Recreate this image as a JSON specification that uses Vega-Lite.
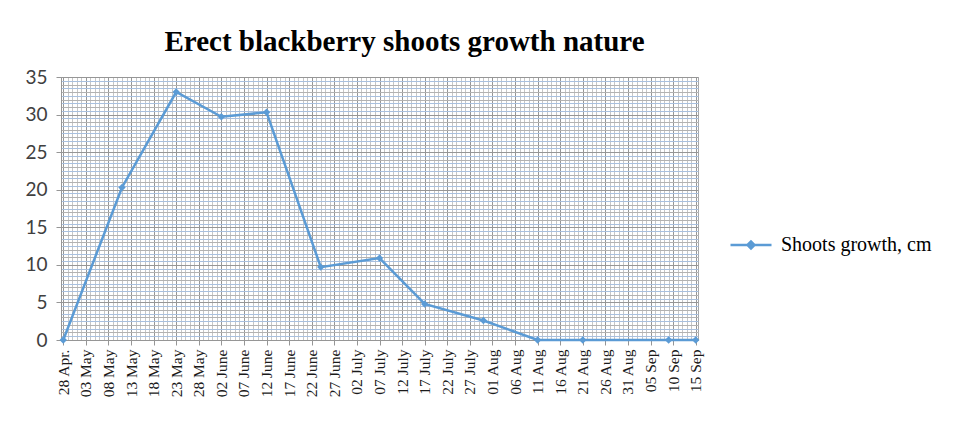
{
  "$schema": "https://vega.github.io/schema/vega-lite/v6.json",
  "width": 637,
  "height": 263,
  "autosize": "none",
  "padding": {"left": 61, "top": 77, "right": 272, "bottom": 85},
  "background": "white",
  "config": {"view": {"stroke": "#a6a6a6", "strokeWidth": 1}},
  "title": {
    "text": "Erect blackberry shoots growth nature",
    "font": "Liberation Serif",
    "fontSize": 29,
    "fontWeight": "bold",
    "color": "#000000",
    "anchor": "middle",
    "frame": "group",
    "offset": 24,
    "baseline": "alphabetic",
    "dx": 25,
    "dy": 36
  },
  "data": {
    "values": [
      {"date": "2014-04-28", "growth": 0, "series": "Shoots growth, cm"},
      {"date": "2014-05-11", "growth": 20.3, "series": "Shoots growth, cm"},
      {"date": "2014-05-23", "growth": 33.0, "series": "Shoots growth, cm"},
      {"date": "2014-06-02", "growth": 29.7, "series": "Shoots growth, cm"},
      {"date": "2014-06-12", "growth": 30.3, "series": "Shoots growth, cm"},
      {"date": "2014-06-24", "growth": 9.7, "series": "Shoots growth, cm"},
      {"date": "2014-07-07", "growth": 10.9, "series": "Shoots growth, cm"},
      {"date": "2014-07-17", "growth": 4.8, "series": "Shoots growth, cm"},
      {"date": "2014-07-30", "growth": 2.6, "series": "Shoots growth, cm"},
      {"date": "2014-08-11", "growth": 0, "series": "Shoots growth, cm"},
      {"date": "2014-08-21", "growth": 0, "series": "Shoots growth, cm"},
      {"date": "2014-09-09", "growth": 0, "series": "Shoots growth, cm"},
      {"date": "2014-09-15", "growth": 0, "series": "Shoots growth, cm"}
    ]
  },
  "encoding": {
    "x": {
      "field": "date",
      "type": "temporal",
      "scale": {
        "type": "utc",
        "domain": [
          {"year": 2014, "month": 4, "date": 27, "hours": 12, "utc": true},
          {"year": 2014, "month": 9, "date": 15, "hours": 12, "utc": true}
        ]
      }
    },
    "y": {
      "field": "growth",
      "type": "quantitative",
      "scale": {"domain": [0, 35], "nice": false}
    }
  },
  "layer": [
    {
      "mark": {"type": "point", "opacity": 0},
      "encoding": {
        "x": {
          "field": "date",
          "type": "temporal",
          "axis": {
            "orient": "bottom",
            "labels": false,
            "ticks": false,
            "domain": false,
            "title": null,
            "grid": true,
            "gridColor": "#c6c6c6",
            "gridWidth": 1,
            "tickCount": {"interval": "day", "step": 1}
          }
        },
        "y": {
          "field": "growth",
          "type": "quantitative",
          "axis": {
            "orient": "left",
            "labels": false,
            "ticks": false,
            "domain": false,
            "title": null,
            "grid": true,
            "gridColor": "#a8c0df",
            "gridWidth": 1,
            "tickCount": 70
          }
        }
      }
    },
    {
      "mark": {"type": "point", "opacity": 0},
      "encoding": {
        "x": {"field": "date", "type": "temporal", "axis": null},
        "y": {
          "field": "growth",
          "type": "quantitative",
          "axis": {
            "orient": "left",
            "labels": false,
            "ticks": false,
            "domain": false,
            "title": null,
            "grid": true,
            "gridColor": "#b2b2b2",
            "gridWidth": 1,
            "tickCount": 35
          }
        }
      }
    },
    {
      "mark": {"type": "line", "strokeWidth": 2.5},
      "encoding": {
        "x": {
          "field": "date",
          "type": "temporal",
          "axis": {
            "orient": "bottom",
            "title": null,
            "grid": true,
            "gridColor": "#969696",
            "domainColor": "#969696",
            "tickColor": "#969696",
            "tickSize": 5,
            "labelPadding": 4,
            "labelAngle": 270,
            "labelFont": "Liberation Serif",
            "labelFontSize": 15.5,
            "labelColor": "#1a1a1a",
            "labelOverlap": false,
            "labelFlush": false,
            "labelBound": false,
            "labelExpr": "utcFormat(datum.value, '%d') + ' ' + ['Jan','Feb','Mar','Apr.','May','June','July','Aug','Sep','Oct','Nov','Dec'][utcmonth(datum.value)]",
            "values": [
              {"year": 2014, "month": 4, "date": 28, "utc": true},
              {"year": 2014, "month": 5, "date": 3, "utc": true},
              {"year": 2014, "month": 5, "date": 8, "utc": true},
              {"year": 2014, "month": 5, "date": 13, "utc": true},
              {"year": 2014, "month": 5, "date": 18, "utc": true},
              {"year": 2014, "month": 5, "date": 23, "utc": true},
              {"year": 2014, "month": 5, "date": 28, "utc": true},
              {"year": 2014, "month": 6, "date": 2, "utc": true},
              {"year": 2014, "month": 6, "date": 7, "utc": true},
              {"year": 2014, "month": 6, "date": 12, "utc": true},
              {"year": 2014, "month": 6, "date": 17, "utc": true},
              {"year": 2014, "month": 6, "date": 22, "utc": true},
              {"year": 2014, "month": 6, "date": 27, "utc": true},
              {"year": 2014, "month": 7, "date": 2, "utc": true},
              {"year": 2014, "month": 7, "date": 7, "utc": true},
              {"year": 2014, "month": 7, "date": 12, "utc": true},
              {"year": 2014, "month": 7, "date": 17, "utc": true},
              {"year": 2014, "month": 7, "date": 22, "utc": true},
              {"year": 2014, "month": 7, "date": 27, "utc": true},
              {"year": 2014, "month": 8, "date": 1, "utc": true},
              {"year": 2014, "month": 8, "date": 6, "utc": true},
              {"year": 2014, "month": 8, "date": 11, "utc": true},
              {"year": 2014, "month": 8, "date": 16, "utc": true},
              {"year": 2014, "month": 8, "date": 21, "utc": true},
              {"year": 2014, "month": 8, "date": 26, "utc": true},
              {"year": 2014, "month": 8, "date": 31, "utc": true},
              {"year": 2014, "month": 9, "date": 5, "utc": true},
              {"year": 2014, "month": 9, "date": 10, "utc": true},
              {"year": 2014, "month": 9, "date": 15, "utc": true}
            ]
          }
        },
        "y": {
          "field": "growth",
          "type": "quantitative",
          "axis": {
            "orient": "left",
            "title": null,
            "values": [0, 5, 10, 15, 20, 25, 30, 35],
            "grid": true,
            "gridColor": "#969696",
            "domainColor": "#969696",
            "tickColor": "#969696",
            "tickSize": 5,
            "labelPadding": 9,
            "labelFont": "Lato",
            "labelFontSize": 19,
            "labelColor": "#404040"
          }
        },
        "color": {
          "field": "series",
          "type": "nominal",
          "scale": {"range": ["#5B9BD5"]},
          "legend": {
            "title": null,
            "orient": "none",
            "legendX": 668,
            "legendY": 146,
            "padding": 0,
            "symbolType": "M-1,0H1M-0.17,0L0,-0.17L0.17,0L0,0.17Z",
            "symbolSize": 1681,
            "symbolStrokeWidth": 2.5,
            "symbolFillColor": "#5B9BD5",
            "labelFont": "Liberation Serif",
            "labelFontSize": 20,
            "labelColor": "#000000",
            "labelOffset": 8,
            "encode": {"symbols": {"update": {"fill": {"value": "#5B9BD5"}, "stroke": {"value": "#5B9BD5"}}}}
          }
        }
      }
    },
    {
      "mark": {"type": "point", "shape": "diamond", "filled": true, "size": 55, "opacity": 1, "color": "#5B9BD5"},
      "encoding": {
        "x": {"field": "date", "type": "temporal", "axis": null},
        "y": {"field": "growth", "type": "quantitative", "axis": null}
      }
    }
  ],
  "resolve": {"axis": {"x": "independent", "y": "independent"}}
}
